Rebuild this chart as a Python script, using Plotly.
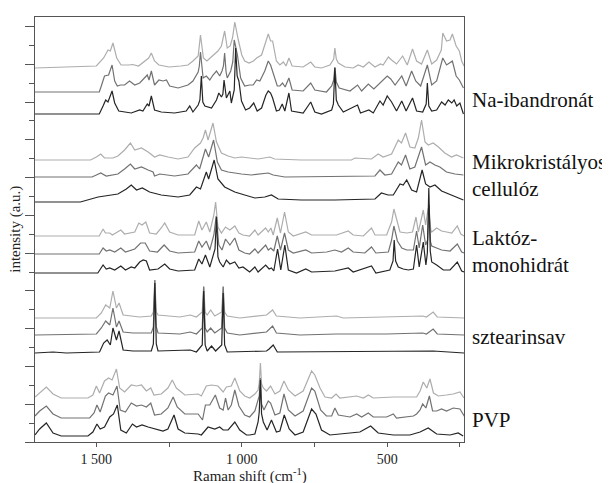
import plotly.graph_objects as go

# ---------------- data ----------------
x_major_ticks = [1500, 1000, 500]
x_major_text = ["1 500", "1 000", "500"]
x_minor_ticks = [1250, 750, 250]

group_labels = ["Na-ibandronát", "Mikrokristályos<br>cellulóz", "Laktóz-<br>monohidrát",
                "sztearinsav", "PVP"]

# baseline offsets (a.u.) of the three spectra in each group: light, mid, dark
na_offsets = [374, 350, 328]
mcc_offsets = [282, 265, 240]
lac_offsets = [206, 188, 169]
ste_offsets = [124, 107, 89]
pvp_offsets = [44, 24, 6]

# spectra: (Raman shift cm-1, intensity above baseline, a.u.)
na_light = [(1711,0),(1600,1),(1500,2),(1475,10),(1460,18),(1452,17),(1443,25),(1430,10),(1415,3),(1390,3),
            (1375,3.5),(1355,2),(1335,7),(1320,10),(1311,15),(1300,7),(1285,3),(1250,1),(1210,2),(1185,3),
            (1168,7),(1150,12),(1142,33),(1132,10),(1120,7),(1100,12),(1082,17),(1070,22),(1059,37),(1050,20),
            (1040,22),(1032,30),(1024,46),(1012,28),(1000,13),(990,7),(975,5),(960,7),(949,10),(932,13),
            (917,28),(909,34),(901,27),(894,27),(881,7),(869,3),(857,6),(848,2),(838,10),(827,2),(789,1),
            (763,6),(749,1),(726,0),(697,3),(684,9),(680,20),(675,9),(668,5),(645,1),(617,0),(600,3),(582,1),
            (563,6),(542,1),(523,4),(514,3),(496,11),(485,8),(468,4),(447,12),(431,3),(413,19),(399,7),(382,4),
            (362,18),(347,4),(330,8),(314,18),(309,35),(296,27),(284,28),(276,34),(263,22),(252,17),(244,7),
            (236,2)]
na_mid = [(1711,0),(1490,0),(1483,6),(1472,16),(1458,17),(1446,27),(1437,11),(1428,6),(1417,7),(1403,7),
          (1386,11),(1368,7),(1351,9),(1334,14),(1325,17),(1319,12),(1311,21),(1300,7),(1285,12),(1271,11),
          (1259,12),(1248,6),(1219,4),(1185,7),(1168,11),(1150,20),(1146,26),(1142,40),(1137,20),(1133,14),
          (1122,16),(1110,12),(1099,17),(1087,21),(1076,16),(1068,21),(1063,26),(1059,39),(1054,20),(1050,14),
          (1038,21),(1031,30),(1026,52),(1015,37),(1004,14),(990,6),(973,7),(961,7),(949,12),(938,11),
          (921,21),(909,31),(901,27),(892,19),(878,6),(869,6),(860,9),(851,5),(838,14),(827,2),(789,1),
          (763,9),(749,2),(709,0),(691,6),(684,12),(680,25),(675,10),(665,4),(628,1),(602,7),(588,1),(565,8),
          (546,3),(523,9),(500,16),(488,13),(473,7),(450,16),(435,6),(416,21),(402,11),(385,6),(362,27),
          (347,7),(330,11),(309,34),(296,27),(286,29),(276,31),(263,16),(252,12),(238,4)]
na_dark = [(1711,0),(1490,0),(1477,8),(1468,14),(1460,12),(1446,23),(1437,11),(1423,3),(1380,1),(1351,4),
           (1340,3),(1325,10),(1319,8),(1311,18),(1300,4),(1277,2),(1231,1),(1191,3),(1179,8),(1168,2),
           (1150,9),(1144,14),(1139,38),(1134,12),(1127,8),(1104,6),(1087,14),(1079,21),(1070,17),(1065,20),
           (1061,34),(1056,18),(1053,16),(1041,23),(1036,11),(1026,24),(1021,66),(1016,38),(1010,33),
           (1001,13),(987,4),(973,6),(959,11),(947,3),(932,6),(917,19),(909,23),(901,21),(894,16),(881,3),
           (871,4),(861,10),(852,3),(838,21),(829,3),(789,1),(763,12),(749,2),(726,0),(691,4),(685,10),
           (680,46),(675,14),(668,9),(651,2),(602,9),(592,1),(563,4),(548,1),(525,13),(514,9),(500,18),
           (485,12),(468,3),(450,13),(435,3),(413,16),(399,3),(378,2),(366,10),(362,31),(357,8),(347,3),
           (330,4),(313,12),(301,9),(290,14),(278,11),(270,14),(261,8),(250,11),(238,0)]

mcc_light = [(1711,0),(1520,0),(1500,3),(1485,6),(1472,2),(1443,2),(1426,4),(1403,10),(1383,17),(1368,10),
             (1345,12),(1322,8),(1300,3),(1282,5),(1254,3),(1219,1),(1185,3),(1162,12),(1142,17),(1133,22),
             (1125,30),(1116,20),(1099,37),(1087,18),(1070,7),(1047,4),(1024,2),(1001,3),(973,2),(944,1),
             (904,3),(887,1),(795,0),(623,0),(611,2),(554,1),(531,6),(514,3),(485,6),(462,20),(451,17),
             (437,27),(422,13),(405,12),(393,22),(382,40),(370,18),(359,15),(342,17),(324,13),(302,7),
             (279,3),(262,5),(238,2)]
mcc_mid = [(1711,0),(1515,0),(1500,2),(1485,4),(1466,1),(1426,3),(1403,8),(1383,13),(1368,8),(1345,10),
           (1322,7),(1305,5),(1300,1),(1282,3),(1231,1),(1185,3),(1156,12),(1145,8),(1125,28),(1114,20),
           (1097,37),(1084,15),(1070,7),(1047,5),(1001,3),(967,2),(909,4),(892,2),(852,0),(542,1),(525,7),
           (508,2),(485,3),(462,15),(451,12),(437,22),(422,8),(405,10),(382,30),(368,12),(353,15),(336,12),
           (319,10),(296,5),(267,3),(238,2)]
mcc_dark = [(1711,0),(1555,0),(1494,5),(1466,6),(1426,8),(1397,13),(1380,17),(1362,12),(1342,14),(1317,10),
            (1277,7),(1219,5),(1179,7),(1156,15),(1142,13),(1122,30),(1114,23),(1095,42),(1082,23),(1059,15),
            (1024,10),(990,7),(955,4),(921,5),(898,7),(875,3),(795,2),(680,2),(542,3),(520,9),(497,7),
            (479,7),(456,18),(445,17),(433,22),(416,12),(399,10),(380,32),(368,18),(353,15),(336,17),
            (313,11),(279,7),(238,2)]

lac_light = [(1711,0),(1490,0),(1477,7),(1469,3),(1454,3),(1445,1),(1416,6),(1403,2),(1368,4),(1354,13),
             (1343,11),(1330,14),(1317,3),(1294,2),(1277,8),(1265,13),(1248,4),(1219,1),(1162,1),(1148,15),
             (1137,6),(1122,14),(1110,4),(1096,21),(1090,34),(1082,9),(1070,3),(1056,9),(1041,6),(1024,10),
             (1010,3),(996,1),(973,0),(955,6),(944,1),(918,8),(909,4),(900,8),(892,1),(878,18),(867,3),
             (853,24),(840,4),(823,0),(780,4),(760,1),(674,1),(634,5),(617,1),(582,0),(554,8),(542,1),
             (502,1),(485,14),(477,27),(468,18),(456,4),(433,3),(413,4),(401,19),(393,4),(385,14),(376,26),
             (368,11),(359,28),(350,6),(347,4),(330,8),(313,5),(296,4),(278,3),(259,10),(247,2),(236,0)]
lac_mid = [(1711,0),(1490,0),(1477,6),(1466,3),(1454,4),(1437,2),(1416,6),(1400,2),(1368,5),(1348,11),
           (1332,11),(1317,3),(1290,2),(1267,9),(1248,3),(1219,1),(1162,2),(1148,13),(1137,7),(1122,13),
           (1110,4),(1096,19),(1088,38),(1079,9),(1068,4),(1056,15),(1041,9),(1024,16),(1010,4),(990,1),
           (973,0),(955,5),(944,1),(918,9),(909,4),(900,6),(890,3),(878,18),(867,4),(853,21),(840,4),
           (823,1),(780,4),(760,1),(708,2),(680,4),(657,2),(634,6),(617,2),(577,1),(554,7),(539,1),(496,2),
           (485,14),(477,28),(465,13),(450,6),(433,4),(410,4),(399,23),(390,6),(378,29),(368,9),(361,14),
           (356,49),(351,12),(347,8),(330,6),(313,4),(284,3),(259,10),(244,2),(236,1)]
lac_dark = [(1711,0),(1495,0),(1477,8),(1466,4),(1454,5),(1437,3),(1416,7),(1400,3),(1380,6),(1368,5),
            (1351,11),(1339,13),(1328,12),(1317,3),(1288,4),(1265,9),(1248,4),(1219,2),(1162,3),(1148,14),
            (1137,9),(1125,18),(1110,6),(1096,19),(1092,24),(1087,56),(1082,16),(1076,11),(1064,6),(1053,13),
            (1041,9),(1024,11),(1010,5),(996,6),(973,1),(955,6),(944,1),(918,8),(906,4),(898,5),(890,2),
            (877,24),(866,3),(852,28),(840,3),(812,0),(780,4),(760,1),(680,2),(634,5),(617,1),(554,7),(539,0),
            (491,3),(480,12),(476,33),(471,12),(462,6),(445,4),(427,3),(410,4),(399,28),(390,6),(376,31),
            (367,8),(362,20),(357,85),(352,22),(347,11),(330,8),(307,3),(284,3),(259,11),(244,2),(236,1)]

ste_light = [(1711,0),(1500,0),(1483,5),(1468,13),(1454,10),(1443,27),(1431,10),(1422,15),(1408,3),(1374,2),
             (1351,1),(1311,2),(1304,6),(1299,38),(1294,6),(1288,3),(1213,1),(1177,3),(1156,1),(1136,6),
             (1131,32),(1126,6),(1119,3),(1107,8),(1093,2),(1069,6),(1064,32),(1059,6),(1050,2),(1007,0),
             (915,3),(894,8),(881,2),(800,0),(674,2),(651,0),(378,2),(365,1),(342,6),(328,1),(236,0)]
ste_mid = [(1711,0),(1500,1),(1483,7),(1468,14),(1454,10),(1443,27),(1431,8),(1422,14),(1408,3),(1374,2),
           (1311,2),(1304,8),(1299,55),(1294,8),(1288,2),(1213,1),(1177,3),(1156,1),(1136,7),(1131,48),
           (1126,7),(1119,3),(1107,7),(1093,2),(1069,7),(1064,48),(1059,7),(1050,2),(1007,0),(915,3),(894,9),
           (881,2),(800,0),(674,1),(502,1),(378,2),(365,1),(342,6),(328,1),(236,0)]
ste_dark = [(1711,0),(1649,1),(1603,0),(1489,1),(1475,10),(1463,13),(1452,8),(1443,25),(1431,13),(1422,22),
            (1408,3),(1374,2),(1311,2),(1304,9),(1299,70),(1294,9),(1288,2),(1177,3),(1156,1),(1136,8),
            (1131,62),(1126,8),(1119,2),(1104,7),(1090,2),(1069,8),(1064,60),(1059,8),(1050,1),(915,2),
            (906,4),(892,8),(878,1),(376,2),(342,2),(236,0)]

pvp_light = [(1711,1),(1695,5),(1672,11),(1649,4),(1621,0),(1529,0),(1512,3),(1500,12),(1489,5),(1472,17),
             (1458,20),(1446,18),(1431,29),(1420,10),(1403,6),(1380,13),(1362,12),(1345,13),(1328,7),(1313,10),
             (1302,3),(1277,4),(1254,10),(1239,18),(1225,10),(1196,3),(1150,4),(1139,2),(1122,12),(1104,13),
             (1082,12),(1064,6),(1053,11),(1036,12),(1024,20),(1007,7),(990,2),(973,0),(955,4),(944,8),
             (940,15),(936,35),(932,14),(926,10),(915,7),(901,12),(886,4),(869,7),(855,17),(840,8),(817,2),
             (789,7),(760,27),(749,23),(731,10),(714,1),(691,0),(676,4),(663,0),(605,2),(582,0),(565,3),
             (548,0),(477,1),(399,1),(387,7),(376,16),(364,10),(353,19),(341,5),(324,2),(296,3),(273,4),
             (250,6),(236,0)]
pvp_mid = [(1711,2),(1695,7),(1672,12),(1649,4),(1621,0),(1523,0),(1508,5),(1498,13),(1487,6),(1469,22),
           (1458,25),(1443,23),(1429,32),(1418,8),(1400,6),(1380,15),(1362,12),(1345,13),(1328,11),(1313,15),
           (1300,3),(1277,4),(1254,10),(1236,21),(1222,11),(1196,4),(1150,4),(1135,-2),(1125,13),(1110,13),
           (1091,23),(1076,10),(1064,8),(1056,20),(1047,8),(1036,13),(1024,28),(1010,12),(990,3),(973,1),
           (955,7),(944,17),(940,22),(936,40),(932,14),(924,8),(909,17),(901,15),(886,3),(869,5),(855,24),
           (840,8),(817,2),(789,7),(760,30),(749,27),(729,8),(709,2),(691,2),(680,10),(668,3),(628,1),
           (605,4),(588,1),(565,5),(548,1),(502,1),(479,4),(468,0),(410,2),(399,4),(387,8),(378,14),(367,10),
           (355,22),(344,7),(330,7),(313,9),(296,7),(273,10),(250,9),(233,1)]
pvp_dark = [(1711,1),(1695,7),(1672,13),(1649,3),(1621,0),(1529,0),(1512,4),(1498,12),(1487,7),(1472,9),
            (1454,19),(1441,22),(1428,31),(1416,6),(1397,3),(1376,12),(1362,9),(1343,11),(1322,9),(1300,7),
            (1271,5),(1254,7),(1233,21),(1219,7),(1196,3),(1150,2),(1139,1),(1116,9),(1093,7),(1076,9),
            (1064,6),(1047,6),(1024,14),(1007,6),(984,1),(973,1),(955,2),(944,14),(940,24),(936,56),(932,22),
            (926,14),(913,6),(898,16),(881,4),(869,5),(854,21),(837,7),(817,1),(789,4),(760,27),(745,22),
            (726,6),(697,1),(628,3),(594,4),(557,10),(531,3),(479,1),(422,1),(387,4),(359,8),(330,2),(284,1),
            (256,3),(239,0)]

groups = [
    ([na_light, na_mid, na_dark], na_offsets),
    ([mcc_light, mcc_mid, mcc_dark], mcc_offsets),
    ([lac_light, lac_mid, lac_dark], lac_offsets),
    ([ste_light, ste_mid, ste_dark], ste_offsets),
    ([pvp_light, pvp_mid, pvp_dark], pvp_offsets),
]

# ---------------- style ----------------
colors = ["#adadad", "#727272", "#252525"]
FONT = "Liberation Serif"
AXC = "#555555"
PAGE_MARGIN = 8  # default <body> margin of the written page

fig = go.Figure()
for spectra, offs in groups:
    for spec, off, col in zip(spectra, offs, colors):
        fig.add_trace(go.Scatter(
            x=[p[0] for p in spec],
            y=[off + p[1] for p in spec],
            mode="lines", line=dict(color=col, width=1.2),
            hoverinfo="skip", showlegend=False))

unit = 425 / 22.5  # one y tick step

fig.update_layout(
    width=610 - PAGE_MARGIN, height=483 - PAGE_MARGIN,
    margin=dict(l=35 - PAGE_MARGIN, r=146, t=17 - PAGE_MARGIN, b=41),
    paper_bgcolor="white", plot_bgcolor="white",
    font=dict(family=FONT, color="#222222", size=14),
    xaxis=dict(range=[1711, 236], showline=True, mirror=True, linecolor=AXC, linewidth=1,
               ticks="outside", ticklen=4, tickcolor=AXC, tickmode="array",
               tickvals=x_major_ticks, ticktext=x_major_text,
               tickfont=dict(size=14, family=FONT, color="#222222"),
               minor=dict(tickmode="array", tickvals=x_minor_ticks, ticks="outside", ticklen=4,
                          tickcolor=AXC, showgrid=False),
               showgrid=False, zeroline=False),
    yaxis=dict(range=[0, 425], showline=True, mirror=True, linecolor=AXC, linewidth=1,
               ticks="outside", ticklen=9, tickcolor=AXC, tickmode="linear", tick0=0, dtick=2 * unit,
               showticklabels=False, showgrid=False, zeroline=False,
               minor=dict(ticks="outside", ticklen=5, tickcolor=AXC, tick0=0, dtick=unit, showgrid=False)),
)

label_y = [0.805, 0.628, 0.448, 0.247, 0.052]
for txt, yy in zip(group_labels, label_y):
    fig.add_annotation(text=txt, xref="paper", yref="paper", x=1.014, y=yy,
                       xanchor="left", yanchor="middle", align="left", showarrow=False,
                       font=dict(family=FONT, size=21, color="#111111"))

fig.add_annotation(text="Raman shift (cm<sup>-1</sup>)", xref="paper", yref="paper",
                   x=0.5, y=-0.079, xanchor="center", yanchor="middle", showarrow=False,
                   font=dict(family=FONT, size=15, color="#222222"))
fig.add_annotation(text="intensity (a.u.)", xref="paper", yref="paper",
                   x=-0.046, y=0.5, xanchor="center", yanchor="middle", textangle=-90,
                   showarrow=False, font=dict(family=FONT, size=15, color="#222222"))

fig.write_html("out.html")
